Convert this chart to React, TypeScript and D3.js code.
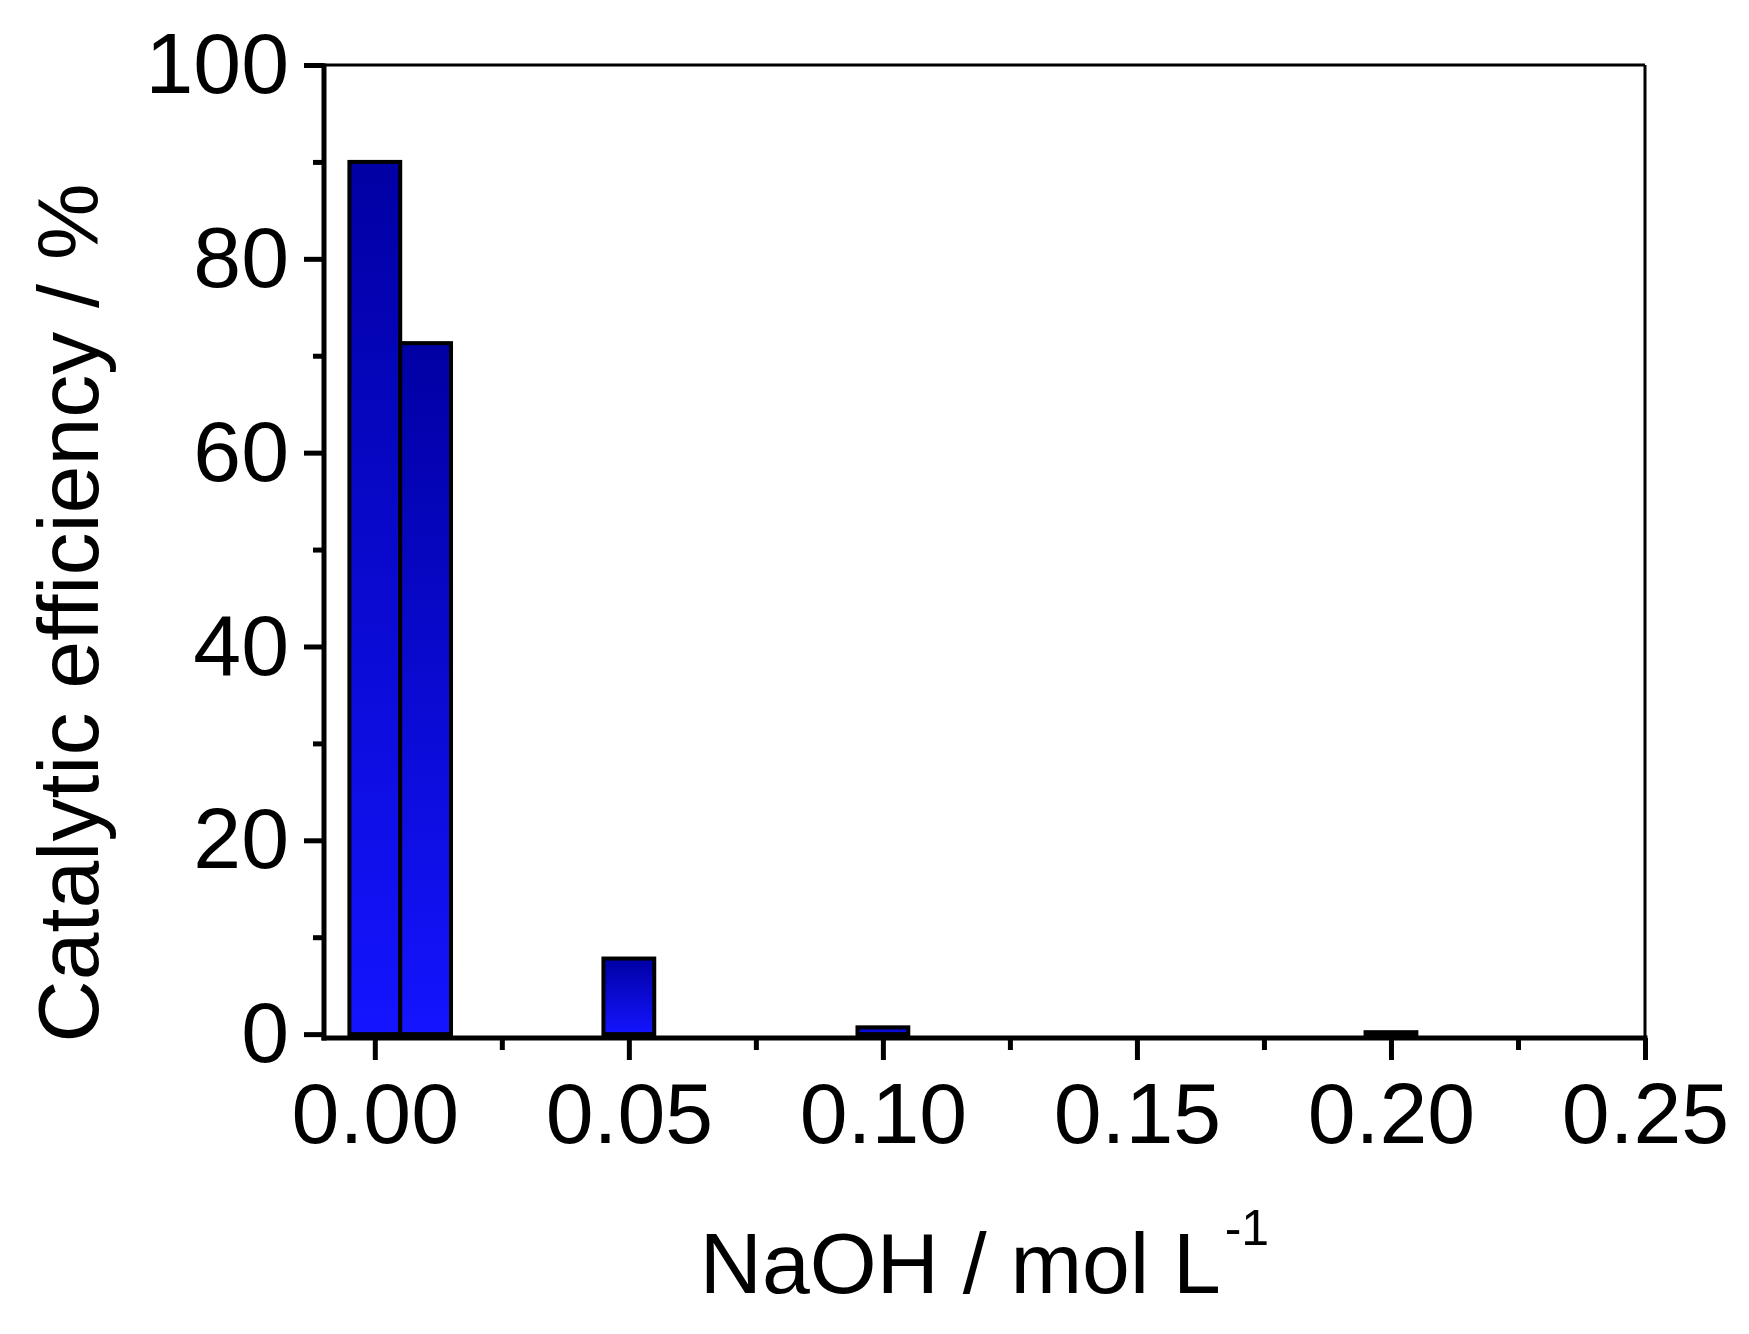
import React, { useEffect, useRef } from 'react';
import * as d3 from 'd3';

// NaOH concentration (mol/L) and catalytic efficiency (%)
const naohConc = [0.0, 0.01, 0.05, 0.1, 0.2];
const efficiency = [90.0, 71.3, 7.8, 0.7, 0.2];

const xMajorTicks = [0, 0.05, 0.1, 0.15, 0.2, 0.25];
const xMinorTicks = [0.025, 0.075, 0.125, 0.175, 0.225];
const yMajorTicks = [0, 20, 40, 60, 80, 100];
const yMinorTicks = [10, 30, 50, 70, 90];

const xLabel = 'NaOH / mol L';
const xLabelSup = '-1';
const yLabel = 'Catalytic efficiency / %';

const W = 1749;
const H = 1334;
const FONT = '"Liberation Sans", Arial, Helvetica, sans-serif';

const App: React.FC = () => {
  const svgRef = useRef<SVGSVGElement>(null);

  useEffect(() => {
    if (!svgRef.current) return;
    const svg = d3.select(svgRef.current);
    svg.selectAll('*').remove();

    const left = 324, right = 1645, top = 65, bottom = 1038;

    const x = d3.scaleLinear().domain([-0.01, 0.25]).range([left, right]);
    const y = d3.scaleLinear().domain([-0.4, 100]).range([bottom, top]);

    // gradient fill for bars (dark at top, bright at bottom)
    const defs = svg.append('defs');
    const grad = defs.append('linearGradient')
      .attr('id', 'barGrad')
      .attr('x1', 0).attr('y1', 0).attr('x2', 0).attr('y2', 1);
    grad.append('stop').attr('offset', '0%').attr('stop-color', '#0000a4');
    grad.append('stop').attr('offset', '100%').attr('stop-color', '#1414ff');

    const data = naohConc.map((c, i) => ({ c, v: efficiency[i] }));
    const half = 0.005;

    svg.append('g')
      .selectAll('rect')
      .data(data)
      .enter()
      .append('rect')
      .attr('x', d => x(d.c - half))
      .attr('y', d => y(d.v))
      .attr('width', d => x(d.c + half) - x(d.c - half))
      .attr('height', d => y(0) - y(d.v))
      .attr('fill', 'url(#barGrad)')
      .attr('stroke', '#000')
      .attr('stroke-width', 4);

    // Y axis
    const yAxis = svg.append('g')
      .attr('transform', `translate(${left},0)`)
      .call(d3.axisLeft(y).tickValues(yMajorTicks).tickSize(20).tickPadding(15).tickFormat(d3.format('d')));
    yAxis.select('.domain').remove();
    yAxis.selectAll('line').attr('stroke-width', 5);
    yAxis.selectAll('text')
      .style('font-family', FONT)
      .style('font-size', '86px')
      .attr('fill', '#000');

    const yMinor = svg.append('g')
      .attr('transform', `translate(${left},0)`)
      .call(d3.axisLeft(y).tickValues(yMinorTicks).tickSize(11).tickFormat(() => ''));
    yMinor.select('.domain').remove();
    yMinor.selectAll('line').attr('stroke-width', 5);

    // X axis
    const xAxis = svg.append('g')
      .attr('transform', `translate(0,${bottom})`)
      .call(d3.axisBottom(x).tickValues(xMajorTicks).tickSize(22).tickPadding(22).tickFormat(d3.format('.2f')));
    xAxis.select('.domain').remove();
    xAxis.selectAll('line').attr('stroke-width', 5);
    xAxis.selectAll('text')
      .style('font-family', FONT)
      .style('font-size', '86px')
      .attr('fill', '#000');

    const xMinor = svg.append('g')
      .attr('transform', `translate(0,${bottom})`)
      .call(d3.axisBottom(x).tickValues(xMinorTicks).tickSize(12).tickFormat(() => ''));
    xMinor.select('.domain').remove();
    xMinor.selectAll('line').attr('stroke-width', 5);

    // frame
    svg.append('line').attr('x1', left).attr('x2', right).attr('y1', top).attr('y2', top)
      .attr('stroke', '#000').attr('stroke-width', 3);
    svg.append('line').attr('x1', right).attr('x2', right).attr('y1', top).attr('y2', bottom)
      .attr('stroke', '#000').attr('stroke-width', 3);
    svg.append('line').attr('x1', left).attr('x2', left).attr('y1', top - 1.5).attr('y2', bottom + 2.5)
      .attr('stroke', '#000').attr('stroke-width', 5);
    svg.append('line').attr('x1', left - 2.5).attr('x2', right + 2.5).attr('y1', bottom).attr('y2', bottom)
      .attr('stroke', '#000').attr('stroke-width', 5);

    // axis titles
    const xt = svg.append('text')
      .attr('x', (left + right) / 2)
      .attr('y', 1293)
      .attr('text-anchor', 'middle')
      .style('font-family', FONT)
      .style('font-size', '86px')
      .attr('fill', '#000')
      .text(xLabel);
    xt.append('tspan')
      .attr('dx', 4)
      .attr('dy', -48)
      .style('font-size', '50px')
      .text(xLabelSup);

    svg.append('text')
      .attr('transform', `translate(98,613) rotate(-90)`)
      .attr('text-anchor', 'middle')
      .style('font-family', FONT)
      .style('font-size', '86px')
      .attr('fill', '#000')
      .text(yLabel);
  }, []);

  return (
    <div style={{ position: 'absolute', left: 0, top: 0, background: '#fff' }}>
      <svg ref={svgRef} width={W} height={H} style={{ display: 'block' }}></svg>
    </div>
  );
};

export default App;
